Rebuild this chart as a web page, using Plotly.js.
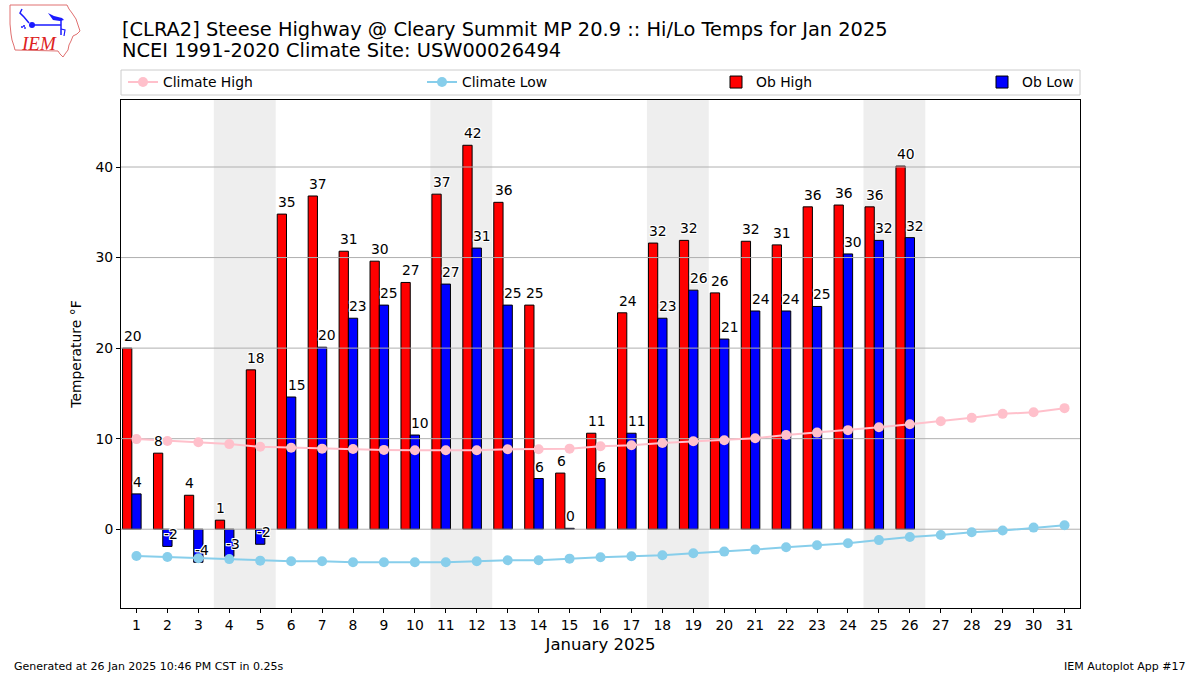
<!DOCTYPE html>
<html><head><meta charset="utf-8">
<script src="https://cdn.plot.ly/plotly-3.0.1.min.js"></script>
<style>html,body{margin:0;padding:0;background:#fff}#chart{width:1200px;height:675px}</style>
</head><body><div id="chart"></div>
<script>
// ---- data ----
const days = [1,2,3,4,5,6,7,8,9,10,11,12,13,14,15,16,17,18,19,20,21,22,23,24,25,26,27,28,29,30,31];
const obDays = [1,2,3,4,5,6,7,8,9,10,11,12,13,14,15,16,17,18,19,20,21,22,23,24,25,26];
const obHigh = [20.0, 8.4, 3.75, 1.0, 17.6, 34.8, 36.8, 30.7, 29.6, 27.25, 37.0, 42.4, 36.1, 24.75, 6.2, 10.6, 23.9, 31.6, 31.9, 26.1, 31.8, 31.4, 35.6, 35.8, 35.6, 40.1];
const obLow = [3.9, -1.9, -3.65, -3.0, -1.66, 14.6, 20.1, 23.3, 24.75, 10.4, 27.07, 31.05, 24.75, 5.6, 0.1, 5.6, 10.6, 23.3, 26.4, 21.0, 24.1, 24.1, 24.6, 30.4, 31.9, 32.2];
const climHigh = [9.95, 9.75, 9.6, 9.4, 9.1, 9.0, 8.9, 8.85, 8.76, 8.73, 8.73, 8.73, 8.84, 8.84, 8.9, 9.17, 9.28, 9.53, 9.72, 9.83, 10.05, 10.4, 10.67, 10.94, 11.27, 11.6, 11.93, 12.3, 12.74, 12.92, 13.37];
const climLow = [-2.95, -3.06, -3.2, -3.3, -3.47, -3.54, -3.54, -3.65, -3.65, -3.65, -3.65, -3.54, -3.43, -3.43, -3.25, -3.1, -2.98, -2.87, -2.65, -2.47, -2.25, -1.99, -1.77, -1.55, -1.2, -0.85, -0.63, -0.33, -0.15, 0.18, 0.44];
const weekendStarts = [4, 11, 18, 25];
const yTicks = [0, 10, 20, 30, 40];
const seriesNames = ["Climate High", "Climate Low", "Ob High", "Ob Low"];
const titleLines = ["[CLRA2] Steese Highway @ Cleary Summit MP 20.9 :: Hi/Lo Temps for Jan 2025", "NCEI 1991-2020 Climate Site: USW00026494"];
const xTitle = "January 2025";
const yTitle = "Temperature °F";
const footLeft = "Generated at 26 Jan 2025 10:46 PM CST in 0.25s";
const footRight = "IEM Autoplot App #17";

// ---- styling ----
const FONT = "DejaVu Sans, sans-serif";
const BW = 0.3;
const halo = "1px 1px 0 #fff, -1px -1px 0 #fff, 1px -1px 0 #fff, -1px 1px 0 #fff, 0 1px 0 #fff, 0 -1px 0 #fff, 1px 0 0 #fff, -1px 0 0 #fff";

// gridline trace (above bars, below climate lines)
const gx = [], gy = [];
yTicks.forEach(v => { gx.push(0.5, 31.5, null); gy.push(v, v, null); });

const traces = [
  {type:'bar', name:seriesNames[2], x: obDays, y: obHigh, width: BW, offset: -0.45, legend:'legend3',
   marker:{color:'#ff0000', line:{color:'#000', width:1}}, hoverinfo:'skip'},
  {type:'bar', name:seriesNames[3], x: obDays, y: obLow, width: BW, offset: -0.15, legend:'legend4',
   marker:{color:'#0000ff', line:{color:'#000', width:1}}, hoverinfo:'skip'},
  {type:'scatter', mode:'lines', x: gx, y: gy, line:{color:'#b0b0b0', width:1},
   showlegend:false, hoverinfo:'skip'},
  {type:'scatter', mode:'lines+markers', name:seriesNames[0], x: days, y: climHigh, legend:'legend',
   line:{color:'#ffc0cb', width:2}, marker:{color:'#ffc0cb', size:10}, hoverinfo:'skip'},
  {type:'scatter', mode:'lines+markers', name:seriesNames[1], x: days, y: climLow, legend:'legend2',
   line:{color:'#87ceeb', width:2}, marker:{color:'#87ceeb', size:10}, hoverinfo:'skip'}
];

const annotations = [];
function addLabels(vals, off) {
  vals.forEach((v, i) => {
    annotations.push({xref:'x', yref:'y', x: obDays[i] + off, y: v, text: String(Math.round(v)),
      showarrow:false, xanchor:'left', yanchor:'bottom', yshift: 2, xshift: -1,
      font:{family:FONT, size:13.9, color:'#000', shadow: halo}});
  });
}
addLabels(obHigh, -0.45);
addLabels(obLow, -0.15);

annotations.push({xref:'paper', yref:'paper', x: -0.0012, y: (608-29)/508, xanchor:'left', yanchor:'middle',
  text: titleLines[0], showarrow:false, font:{family:FONT, size:19.4, color:'#000'}});
annotations.push({xref:'paper', yref:'paper', x: -0.0012, y: (608-51)/508, xanchor:'left', yanchor:'middle',
  text: titleLines[1], showarrow:false, font:{family:FONT, size:19.4, color:'#000'}});
annotations.push({xref:'paper', yref:'paper', x: (12-121)/959, y: (608-666)/508, xanchor:'left', yanchor:'middle',
  text: footLeft, showarrow:false, font:{family:FONT, size:11, color:'#000'}});
annotations.push({xref:'paper', yref:'paper', x: (1188-121)/959, y: (608-666)/508, xanchor:'right', yanchor:'middle',
  text: footRight, showarrow:false, font:{family:FONT, size:11, color:'#000'}});

const shapes = weekendStarts.map(d => ({type:'rect', xref:'x', yref:'paper', x0: d-0.5, x1: d+1.5, y0:0, y1:1,
  fillcolor:'#eeeeee', line:{width:0}, layer:'below'}));
// legend frame
shapes.push({type:'rect', xref:'paper', yref:'paper', x0:0, x1:1, y0:(608-95)/508, y1:(608-70)/508,
  line:{color:'#cccccc', width:1}, fillcolor:'rgba(255,255,255,0.8)', layer:'above'});

const logoSvg = `<svg xmlns="http://www.w3.org/2000/svg" width="74" height="56" viewBox="0 0 74 56">
<path d="M2 1 L59 1 L61 5 L64 9 L68 15 L70 21 L72 27 L69 30 L65 32 L63 37 L61 41 L60 46 L57 50 L55 53 L52 50 L50 47 L7 46 L6 42 L4 36 L3 30 L2 20 Z" fill="none" stroke="#e07070" stroke-width="1"/>
<path d="M14 5 L12 9 L16 13 L21 19" fill="none" stroke="#1a1aff" stroke-width="1.5"/>
<circle cx="16" cy="22" r="1.1" fill="#1a1aff"/><circle cx="14" cy="23" r="1" fill="#1a1aff"/><circle cx="17" cy="24" r="0.9" fill="#1a1aff"/>
<circle cx="24" cy="21" r="3" fill="#1a1aff"/>
<line x1="24" y1="21" x2="53" y2="21" stroke="#1a1aff" stroke-width="1.5"/>
<path d="M40 9 L46 12 L54 14 L56 16 L52 17 L45 16 Z" fill="#1a1aff"/>
<line x1="53" y1="16" x2="53" y2="31" stroke="#1a1aff" stroke-width="1.5"/>
<path d="M53 25 L57 26 L56 32" fill="none" stroke="#1a1aff" stroke-width="1.2"/>
<text x="14" y="46" font-family="Liberation Serif, serif" font-style="italic" font-size="19" fill="#dd2222">IEM</text>
</svg>`;
const logoUri = 'data:image/svg+xml;charset=utf-8,' + encodeURIComponent(logoSvg);

function leg(px) {
  return {orientation:'h', x:(px-121)/959, xanchor:'left', y:(608-82.5)/508, yanchor:'middle', yref:'paper',
    bgcolor:'rgba(0,0,0,0)', borderwidth:0, font:{family:FONT, size:13.9, color:'#000'}};
}

const layout = {
  width:1200, height:675, paper_bgcolor:'#fff', plot_bgcolor:'#fff',
  margin:{l:121, r:120, t:100, b:67},
  font:{family:FONT, size:13.9, color:'#000'},
  barmode:'overlay', showlegend:true,
  legend: leg(123), legend2: leg(422), legend3: leg(716), legend4: leg(982),
  xaxis:{range:[0.5, 31.5], tickmode:'array', tickvals: days, ticktext: days.map(String),
    showgrid:false, zeroline:false, showline:true, mirror:true, linecolor:'#000', linewidth:1,
    ticks:'outside', ticklen:4, tickcolor:'#000', tickfont:{family:FONT, size:13.9},
    title:{text:xTitle, font:{family:FONT, size:16.5}, standoff:6}},
  yaxis:{range:[-8.7, 47.4], tickmode:'array', tickvals: yTicks, showgrid:false, zeroline:false,
    showline:true, mirror:true, linecolor:'#000', linewidth:1,
    ticks:'outside', ticklen:4, tickcolor:'#000', tickfont:{family:FONT, size:13.9},
    title:{text:yTitle, font:{family:FONT, size:13.9}, standoff:10}},
  shapes: shapes, annotations: annotations,
  images:[{source: logoUri, xref:'paper', yref:'paper', x:(8-121)/959, y:(608-4)/508,
    sizex:74/959, sizey:56/508, xanchor:'left', yanchor:'top', sizing:'stretch', layer:'above'}]
};

Plotly.newPlot('chart', traces, layout, {displayModeBar:false, staticPlot:true});
</script></body></html>
